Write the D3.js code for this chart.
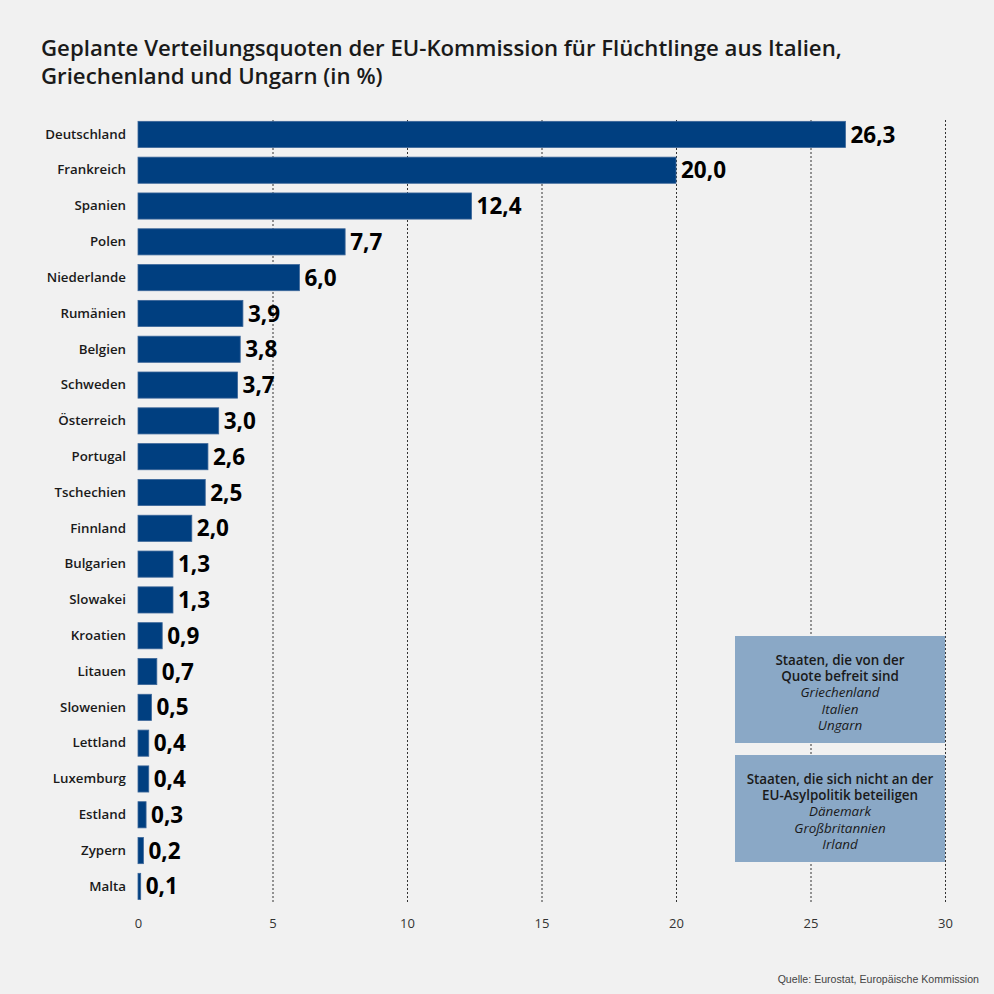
<!DOCTYPE html>
<html><head><meta charset="utf-8">
<script src="https://cdn.jsdelivr.net/npm/d3@7"></script>
<style>
html,body{margin:0;padding:0;background:#f1f1f1;}
svg{display:block;font-family:"Open Sans",sans-serif;}
</style></head>
<body>
<svg id="c" width="994" height="994"></svg>
<script>
const countries = ["Deutschland","Frankreich","Spanien","Polen","Niederlande","Rumänien","Belgien","Schweden","Österreich","Portugal","Tschechien","Finnland","Bulgarien","Slowakei","Kroatien","Litauen","Slowenien","Lettland","Luxemburg","Estland","Zypern","Malta"];
const quotas = [26.3,20.0,12.4,7.7,6.0,3.9,3.8,3.7,3.0,2.6,2.5,2.0,1.3,1.3,0.9,0.7,0.5,0.4,0.4,0.3,0.2,0.1];
const xTicks = [0,5,10,15,20,25,30];
const titleLines = ["Geplante Verteilungsquoten der EU-Kommission für Flüchtlinge aus Italien,","Griechenland und Ungarn (in %)"];
const box1Head = ["Staaten, die von der","Quote befreit sind"];
const box1List = ["Griechenland","Italien","Ungarn"];
const box2Head = ["Staaten, die sich nicht an der","EU-Asylpolitik beteiligen"];
const box2List = ["Dänemark","Großbritannien","Irland"];
const source = "Quelle: Eurostat, Europäische Kommission";

const svg = d3.select("#c");
svg.append("rect").attr("width",994).attr("height",994).attr("fill","#f1f1f1");

const x = d3.scaleLinear().domain([0,30]).range([138,945]);
const y = d3.scaleBand().domain(countries).range([116.5,904.3]).paddingInner(0.27).paddingOuter(0.135);

// title
svg.append("g").selectAll("text").data(titleLines).join("text")
  .attr("x",41).attr("y",(d,i)=>56+i*28)
  .attr("font-size",22.2).attr("font-weight",600).attr("fill","#1a1a1a").text(d=>d);

// gridlines
svg.append("g").selectAll("line").data(xTicks.filter(t=>t>0)).join("line")
  .attr("x1",d=>x(d)+0.5).attr("x2",d=>x(d)+0.5).attr("y1",120).attr("y2",902)
  .attr("stroke","#333").attr("stroke-width",1).attr("stroke-dasharray","2,2");

// bars
svg.append("g").selectAll("rect").data(countries).join("rect")
  .attr("x",x(0)).attr("y",d=>y(d)).attr("width",(d,i)=>x(quotas[i])-x(0)).attr("height",y.bandwidth())
  .attr("fill","#003f80").attr("stroke","#3b6699").attr("stroke-width",0.8);

// value labels
svg.append("g").selectAll("text").data(countries).join("text")
  .attr("x",(d,i)=>x(quotas[i])+5).attr("y",d=>y(d)+y.bandwidth()/2).attr("dy","0.36em")
  .attr("font-size",22.5).attr("font-weight",700).attr("fill","#000")
  .text((d,i)=>d3.format(".1f")(quotas[i]).replace(".",","));

// category axis
const yAxis = d3.axisLeft(y).tickSize(0).tickPadding(12);
const ya = svg.append("g").attr("transform",`translate(${x(0)},0)`).call(yAxis);
ya.select(".domain").remove();
ya.selectAll("text").attr("font-family","'Open Sans',sans-serif").attr("font-size",13.3).attr("font-weight",600).attr("fill","#1a1a1a");

// x axis
const xAxis = d3.axisBottom(x).tickValues(xTicks).tickSize(0).tickPadding(0).tickFormat(d3.format("d"));
const xa = svg.append("g").attr("transform","translate(0,919)").call(xAxis);
xa.select(".domain").remove();
xa.selectAll("text").attr("font-family","'Open Sans',sans-serif").attr("font-size",13).attr("fill","#333");

// boxes
function box(y0, head, list){
  const g = svg.append("g");
  g.append("rect").attr("x",735).attr("y",y0).attr("width",210).attr("height",107).attr("fill","#8aa8c6");
  const t = g.append("g").attr("text-anchor","middle").attr("font-size",13.4).attr("fill","#1a1a1a");
  t.selectAll("text.h").data(head).join("text").attr("class","h").attr("x",840).attr("y",(d,i)=>y0+29+i*16.2).attr("font-weight",600).text(d=>d);
  t.selectAll("text.l").data(list).join("text").attr("class","l").attr("x",840).attr("y",(d,i)=>y0+29+(head.length+i)*16.2).attr("font-style","italic").text(d=>d);
}
box(636, box1Head, box1List);
box(755, box2Head, box2List);

svg.append("text").attr("x",979).attr("y",983).attr("text-anchor","end")
  .attr("font-family","'Liberation Sans',Arial,sans-serif").attr("font-size",10.6).attr("fill","#444").text(source);
</script>
</body></html>
